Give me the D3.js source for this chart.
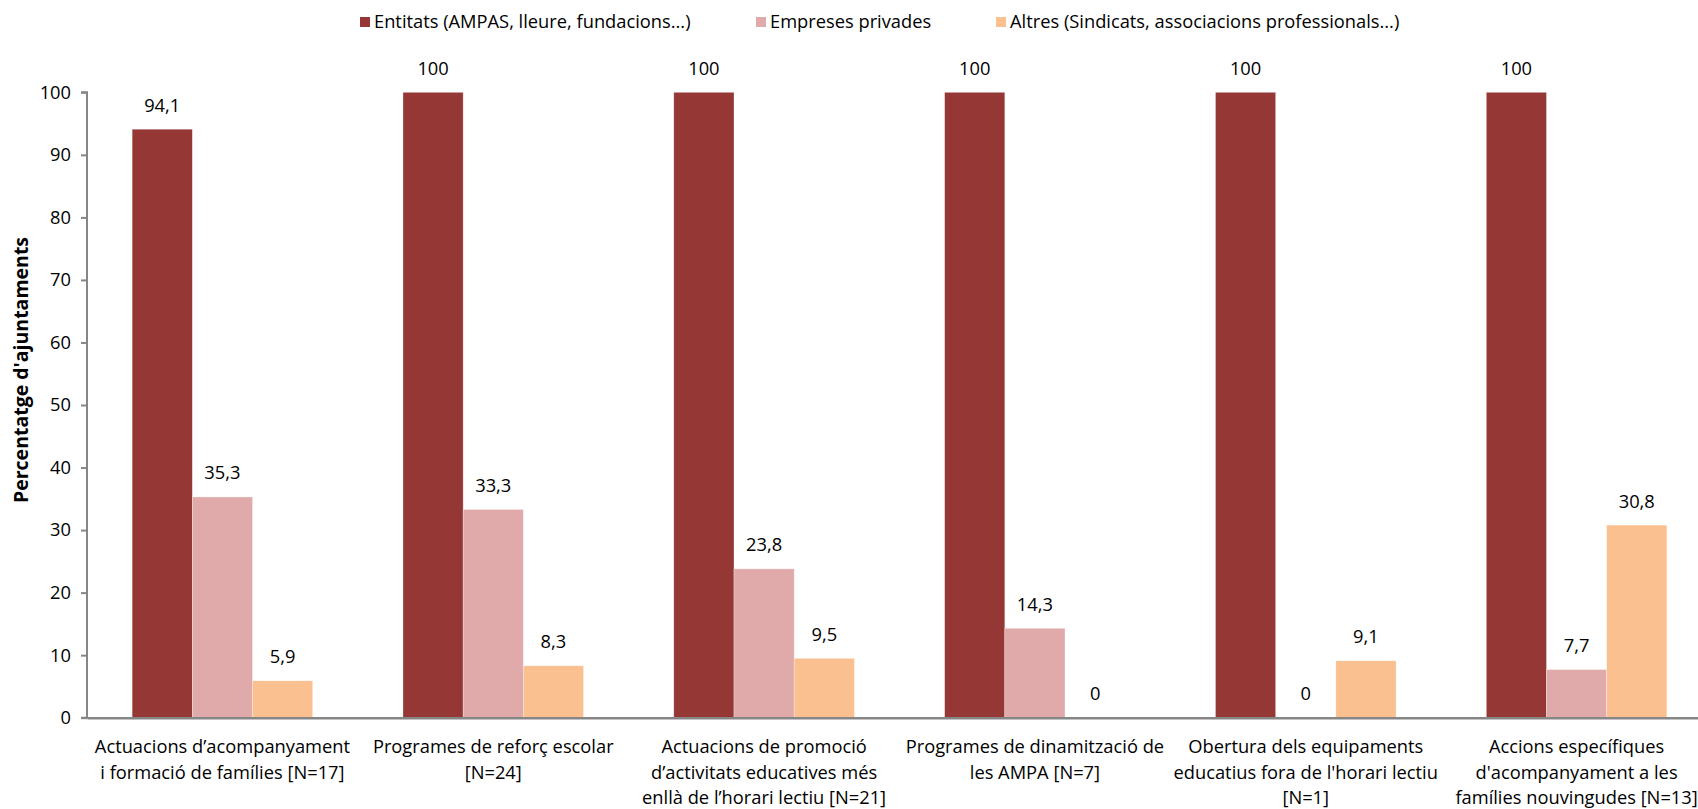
<!DOCTYPE html>
<html>
<head>
<meta charset="utf-8">
<script src="https://cdn.jsdelivr.net/npm/d3@7"></script>
<style>
  html, body { margin: 0; padding: 0; background: #fff; overflow: hidden; }
  svg { display: block; font-family: "Open Sans", "Noto Sans", sans-serif; }
</style>
</head>
<body>
<svg id="chart" width="1698" height="809"></svg>
<script>
// ---- data ----
const categories = [
  ["Actuacions d’acompanyament", "i formació de famílies [N=17]"],
  ["Programes de reforç escolar", "[N=24]"],
  ["Actuacions de promoció", "d’activitats educatives més", "enllà de l’horari lectiu [N=21]"],
  ["Programes de dinamització de", "les AMPA [N=7]"],
  ["Obertura dels equipaments", "educatius fora de l'horari lectiu", "[N=1]"],
  ["Accions específiques", "d'acompanyament a les", "famílies nouvingudes [N=13]"]
];
const seriesNames = [
  "Entitats (AMPAS, lleure, fundacions...)",
  "Empreses privades",
  "Altres (Sindicats, associacions professionals...)"
];
const entitats = [94.1, 100, 100, 100, 100, 100];
const empreses = [35.3, 33.3, 23.8, 14.3, 0, 7.7];
const altres   = [5.9, 8.3, 9.5, 0, 9.1, 30.8];
const yTicks = [0, 10, 20, 30, 40, 50, 60, 70, 80, 90, 100];
const yTitle = "Percentatge d'ajuntaments";

// ---- layout ----
(function () {
const colors = ["#953735", "#E0AAAA", "#FAC090"];
const series = [entitats, empreses, altres];
const pLeft = 87, pRight = 1712, pTop = 92.3, pBottom = 717.7;

const svg = d3.select("#chart");

const x0 = d3.scaleBand().domain(d3.range(categories.length)).range([pLeft, pRight]).paddingInner(0).paddingOuter(0);
const x1 = d3.scaleBand().domain(d3.range(series.length)).range([0, x0.bandwidth()]).paddingInner(0).paddingOuter(0.75);
const y = d3.scaleLinear().domain([0, 100]).range([pBottom, pTop]);

const fmt = v => String(v).replace(".", ",");

// bars
const groups = svg.append("g").selectAll("g")
  .data(categories.map((c, i) => i))
  .join("g")
  .attr("transform", i => `translate(${x0(i)},0)`);

groups.selectAll("rect")
  .data(i => series.map((s, k) => ({k, v: s[i]})))
  .join("rect")
  .attr("x", d => x1(d.k))
  .attr("width", x1.bandwidth())
  .attr("y", d => y(d.v))
  .attr("height", d => y(0) - y(d.v))
  .attr("fill", d => colors[d.k])
  .attr("stroke", "#fff")
  .attr("stroke-opacity", 0.5)
  .attr("stroke-width", 0.6);

groups.selectAll("text.val")
  .data(i => series.map((s, k) => ({k, v: s[i]})))
  .join("text")
  .attr("class", "val")
  .attr("x", d => x1(d.k) + x1.bandwidth() / 2)
  .attr("y", d => y(d.v) - 17.5)
  .attr("text-anchor", "middle")
  .attr("font-size", 18.3)
  .attr("fill", "#000")
  .text(d => fmt(d.v));

// y axis
const yAxis = d3.axisLeft(y).tickValues(yTicks).tickSize(6).tickPadding(10).tickFormat(d3.format("d"));
const ga = svg.append("g").attr("transform", `translate(${pLeft},0)`).call(yAxis);
ga.select(".domain").attr("stroke", "#868686").attr("stroke-width", 2).attr("d", `M-6,${pTop}H0V${pBottom}H-6`);
ga.selectAll(".tick line").attr("stroke", "#868686").attr("stroke-width", 2);
ga.selectAll(".tick text").attr("font-size", 18.3).attr("fill", "#000").attr("font-family", "Open Sans, sans-serif");

// x axis line
const gx = svg.append("g").attr("transform", `translate(0,${pBottom})`).call(d3.axisBottom(x0).tickSize(0).tickFormat(""));
gx.select(".domain").attr("stroke", "#868686").attr("stroke-width", 2.5);

// x labels
const xl = svg.append("g").selectAll("text")
  .data(categories)
  .join("text")
  .attr("x", (d, i) => x0(i) + x0.bandwidth() / 2)
  .attr("y", 753)
  .attr("text-anchor", "middle")
  .attr("font-size", 18.3)
  .attr("fill", "#000");
xl.selectAll("tspan")
  .data(d => d)
  .join("tspan")
  .attr("x", function() { return this.parentNode.getAttribute("x"); })
  .attr("dy", (d, j) => j === 0 ? 0 : 25.5)
  .text(d => d);

// y title
svg.append("text")
  .attr("transform", `translate(28,370) rotate(-90)`)
  .attr("text-anchor", "middle")
  .attr("font-size", 19.5)
  .attr("font-weight", "bold")
  .text(yTitle);

// legend
const legendX = [360, 756, 996];
const lg = svg.append("g").selectAll("g")
  .data(seriesNames)
  .join("g")
  .attr("transform", (d, i) => `translate(${legendX[i]},22)`);
lg.append("rect").attr("x", 0).attr("y", -5).attr("width", 10).attr("height", 10).attr("fill", (d, i) => colors[i]);
lg.append("text").attr("x", 14).attr("y", 6).attr("font-size", 18.3).text(d => d);
})();
</script>
</body>
</html>
